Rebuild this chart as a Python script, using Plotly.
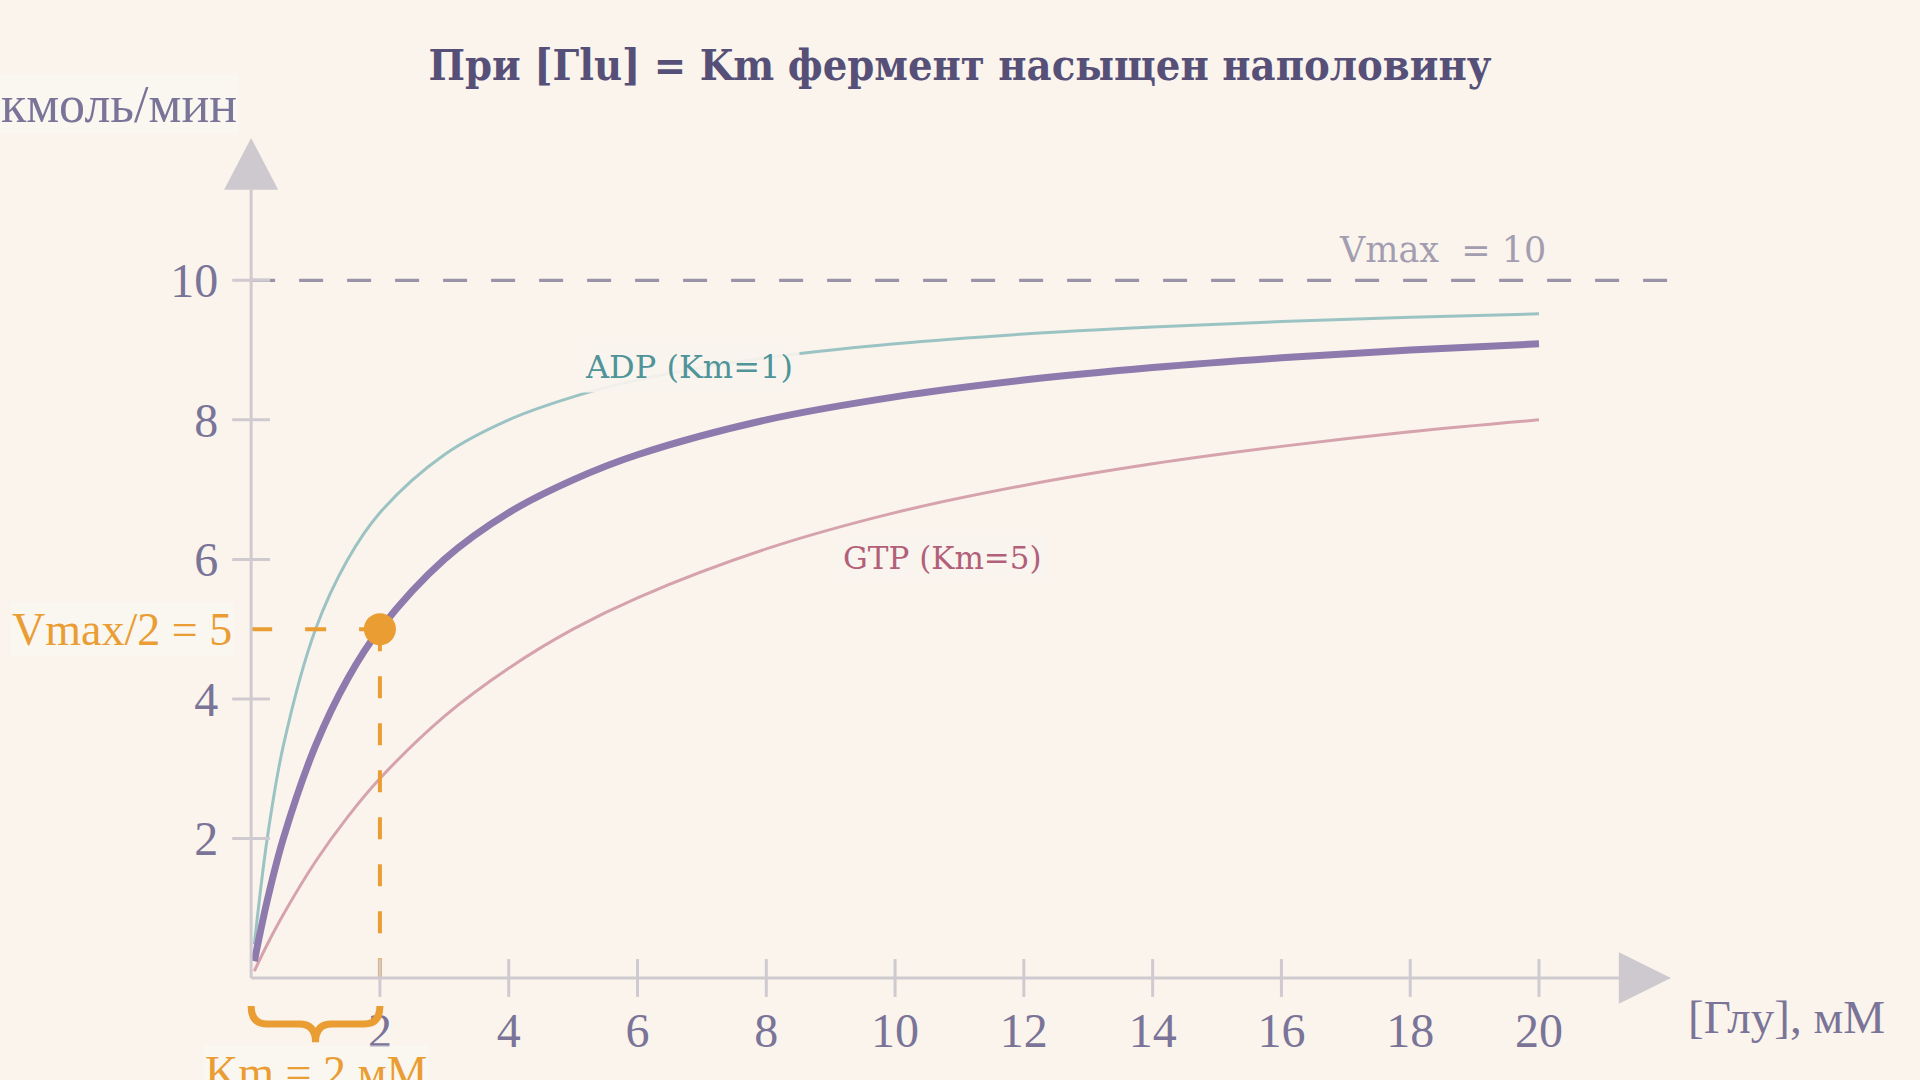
import plotly.graph_objects as go

# substrate concentration, mM
glu = [0.05, 0.25, 0.5, 1, 1.5, 2, 3, 4, 5, 6, 8, 10, 12, 14, 16, 18, 20]
# velocity, мкмоль/мин
v_main = [0.24, 1.11, 2.0, 3.33, 4.29, 5.0, 6.0, 6.67, 7.14, 7.5, 8.0, 8.33, 8.57, 8.75, 8.89, 9.0, 9.09]
v_adp = [0.48, 2.0, 3.33, 5.0, 6.0, 6.67, 7.5, 8.0, 8.33, 8.57, 8.89, 9.09, 9.23, 9.33, 9.41, 9.47, 9.52]
v_gtp = [0.1, 0.48, 0.91, 1.67, 2.31, 2.86, 3.75, 4.44, 5.0, 5.45, 6.15, 6.67, 7.06, 7.37, 7.62, 7.83, 8.0]

x_ticks = [2, 4, 6, 8, 10, 12, 14, 16, 18, 20]
y_ticks = [2, 4, 6, 8, 10]

vmax = 10
km = 2

bg = "#FAF4ED"
axis_col = "#CFCACF"
tick_col = "#7A7498"
orange = "#E99D33"
serif = "Liberation Serif"

x_rng = [-3.9, 22.05]
y_rng = [-1.462, 12.04]

fig = go.Figure()

# curves
fig.add_trace(go.Scatter(x=glu, y=v_adp, mode="lines", line=dict(color="#9CC3C3", width=3, shape="spline")))
fig.add_trace(go.Scatter(x=glu, y=v_gtp, mode="lines", line=dict(color="#D6A3AD", width=3, shape="spline")))
fig.add_trace(go.Scatter(x=glu, y=v_main, mode="lines", line=dict(color="#8E7AAD", width=7, shape="spline")))

# Vmax line
fig.add_trace(go.Scatter(x=[0, x_rng[1]], y=[vmax, vmax], mode="lines",
                         line=dict(color="#9A93A8", width=3.3, dash="24px,24px")))

# Km guides
fig.add_trace(go.Scatter(x=[0, km], y=[vmax / 2, vmax / 2], mode="lines",
                         line=dict(color=orange, width=4, dash="21px,33px")))
fig.add_trace(go.Scatter(x=[km, km], y=[vmax / 2, 0], mode="lines",
                         line=dict(color=orange, width=4, dash="22px,25px")))

# axis lines + arrows
fig.add_shape(type="line", x0=0, y0=0, x1=21.3, y1=0, line=dict(color=axis_col, width=3))
fig.add_shape(type="line", x0=0, y0=0, x1=0, y1=11.3, line=dict(color=axis_col, width=3))
fig.add_shape(type="path", path="M 21.24,0.37 L 22.05,0 L 21.24,-0.37 Z",
              fillcolor="#CDC9CE", line=dict(width=0))
fig.add_shape(type="path", path="M -0.42,11.3 L 0,12.04 L 0.42,11.3 Z",
              fillcolor="#CDC9CE", line=dict(width=0))

# tick marks crossing the axes
fig.add_trace(go.Scatter(x=x_ticks, y=[0] * len(x_ticks), mode="markers",
                         marker=dict(symbol="line-ns", size=27, line=dict(color=axis_col, width=3))))
fig.add_trace(go.Scatter(x=[0] * len(y_ticks), y=y_ticks, mode="markers",
                         marker=dict(symbol="line-ew", size=27, line=dict(color=axis_col, width=3))))

# Km point
fig.add_trace(go.Scatter(x=[km], y=[vmax / 2], mode="markers",
                         marker=dict(color=orange, size=32, line=dict(width=0))))

# brace under 0..Km
top, mid, tip = -0.40, -0.66, -0.92
h = km / 2
brace = (f"M 0,{top} Q 0,{mid} {h * 0.25},{mid} L {h * 0.75},{mid} Q {h},{mid} {h},{tip} "
         f"Q {h},{mid} {h * 1.25},{mid} L {h * 1.75},{mid} Q {km},{mid} {km},{top}")
fig.add_shape(type="path", path=brace, line=dict(color=orange, width=7))

# labels
fig.add_annotation(x=-0.27, y=vmax / 2, text="Vmax/2 = 5", showarrow=False, xanchor="right",
                   font=dict(family=serif, size=46, color=orange), bgcolor="rgba(250,246,241,0.7)")
fig.add_annotation(x=h, y=-1.35, text="Km = 2 мМ", showarrow=False,
                   font=dict(family=serif, size=46, color=orange), bgcolor="rgba(250,246,241,0.7)")
fig.add_annotation(x=18.5, y=10.44, text="Vmax  = 10", showarrow=False,
                   font=dict(family="DejaVu Serif", size=35, color="#A39DB0"),
                   bgcolor="rgba(250,244,237,0.6)", borderpad=6)
fig.add_annotation(x=6.8, y=8.76, text="ADP (Km=1)", showarrow=False,
                   font=dict(family="DejaVu Serif", size=32, color="#4E9499"),
                   bgcolor="rgba(250,244,237,0.9)", borderpad=6)
fig.add_annotation(x=10.74, y=6.02, text="GTP (Km=5)", showarrow=False,
                   font=dict(family="DejaVu Serif", size=31, color="#B2607A"),
                   bgcolor="rgba(250,244,237,0.9)", borderpad=6)
fig.add_annotation(xref="paper", yref="paper", x=239 / 1671, y=976 / 942,
                   text="мкмоль/мин", showarrow=False, xanchor="right", yanchor="middle",
                   font=dict(family=serif, size=52, color=tick_col), bgcolor="rgba(250,246,241,0.7)")
fig.add_annotation(xref="paper", yref="paper", x=1686 / 1671, y=63 / 942,
                   text="[Глу], мМ", showarrow=False, xanchor="left", yanchor="middle",
                   font=dict(family=serif, size=47, color=tick_col))

fig.update_layout(
    width=1920, height=1080,
    paper_bgcolor=bg, plot_bgcolor=bg,
    margin=dict(l=0, r=249, t=138, b=0),
    showlegend=False,
    title=dict(text="<b>При [Гlu] = Km фермент насыщен наполовину</b>",
               x=0.5, xanchor="center", y=1 - 65 / 1080, yanchor="middle",
               font=dict(family="DejaVu Serif Condensed", size=43, color="#565079")),
    xaxis=dict(range=x_rng, showgrid=False, zeroline=False, showline=False,
               anchor="free", position=1.462 / 13.502,
               tickvals=x_ticks, ticks="", ticklabelstandoff=20,
               tickfont=dict(family=serif, size=48, color=tick_col)),
    yaxis=dict(range=y_rng, showgrid=False, zeroline=False, showline=False,
               anchor="free", position=3.9 / 25.95,
               tickvals=y_ticks, ticks="", ticklabelstandoff=33,
               tickfont=dict(family=serif, size=48, color=tick_col)),
)

fig.write_html("out.html", config={"displayModeBar": False},
               post_script="document.body.style.margin='0';")
